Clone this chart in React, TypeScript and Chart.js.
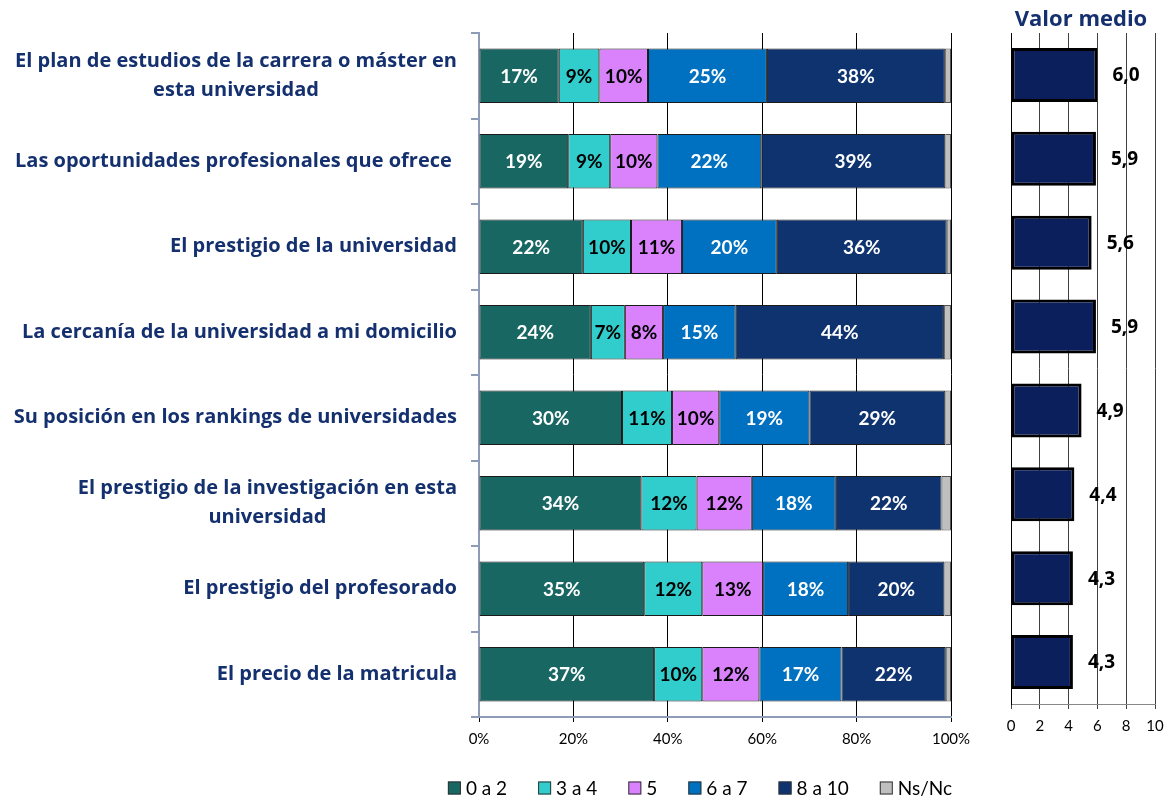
import React, { useEffect, useRef } from 'react';
import { Chart, registerables } from 'chart.js';

Chart.register(...registerables);

const categories: (string | string[])[] = [
  ['El plan de estudios de la carrera o máster en', 'esta universidad'],
  'Las oportunidades profesionales que ofrece ',
  'El prestigio de la universidad',
  'La cercanía de la universidad a mi domicilio',
  'Su posición en los rankings de universidades',
  ['El prestigio de la investigación en esta', 'universidad'],
  'El prestigio del profesorado',
  'El precio de la matricula',
];

const seriesNames = ['0 a 2', '3 a 4', '5', '6 a 7', '8 a 10', 'Ns/Nc'];
const s0a2 = [16.9, 18.9, 22.0, 23.7, 30.3, 34.4, 35.0, 37.1];
const s3a4 = [8.6, 8.9, 10.2, 7.2, 10.6, 11.7, 12.3, 10.2];
const s5 = [10.3, 10.0, 10.8, 8.1, 10.0, 11.7, 12.9, 12.1];
const s6a7 = [25.2, 22.0, 20.1, 15.4, 19.1, 17.8, 18.0, 17.4];
const s8a10 = [37.7, 39.0, 36.0, 44.1, 28.8, 22.4, 20.4, 22.1];
const sNsNc = [1.3, 1.2, 0.9, 1.5, 1.2, 2.0, 1.4, 1.1];
const meanValues = [6.0, 5.9, 5.6, 5.9, 4.9, 4.4, 4.3, 4.3];
const meanTitle = 'Valor medio';

const seriesData = [s0a2, s3a4, s5, s6a7, s8a10, sNsNc];
const seriesColors = ['#196763', '#31CDCC', '#D982FC', '#0070C0', '#0E336F', '#BFBFBF'];
const labelColors = ['#FFFFFF', '#000000', '#000000', '#FFFFFF', '#FFFFFF', null];

const FONT = 'Lato, "Open Sans", sans-serif';
const FONT_WIDE = '"Open Sans", Lato, sans-serif';
const NAVY = '#14306E';
const AXIS_GREY = '#8E9CB8';

const segLabels = {
  id: 'segLabels',
  afterDatasetsDraw(chart: any) {
    const { ctx } = chart;
    ctx.save();
    ctx.font = `bold 19px ${FONT}`;
    ctx.textAlign = 'center';
    ctx.textBaseline = 'middle';
    chart.data.datasets.forEach((ds: any, d: number) => {
      const col = labelColors[d];
      if (!col) return;
      const meta = chart.getDatasetMeta(d);
      meta.data.forEach((el: any, i: number) => {
        const v = ds.data[i];
        const p = el.getCenterPoint();
        ctx.fillStyle = col;
        ctx.fillText(Math.round(v) + '%', p.x, p.y + 1);
      });
    });
    ctx.restore();
  },
};

const catLabels = {
  id: 'catLabels',
  afterDraw(chart: any) {
    const { ctx } = chart;
    const y = chart.scales.y;
    ctx.save();
    ctx.font = `bold 20px ${FONT_WIDE}`;
    ctx.fillStyle = NAVY;
    ctx.textAlign = 'center';
    ctx.textBaseline = 'middle';
    categories.forEach((c, i) => {
      const lines = Array.isArray(c) ? c : [c];
      const w = Math.max(...lines.map((l) => ctx.measureText(l).width));
      const cx = 457 - w / 2;
      const yc = y.getPixelForValue(i);
      const lh = 29;
      lines.forEach((l, j) => ctx.fillText(l, cx, yc + (j - (lines.length - 1) / 2) * lh));
    });
    ctx.restore();
  },
};

const legendDraw = {
  id: 'legendDraw',
  afterDraw(chart: any) {
    const { ctx } = chart;
    ctx.save();
    ctx.font = `19px ${FONT}`;
    ctx.textBaseline = 'middle';
    ctx.textAlign = 'left';
    const box = 13;
    const gapBT = 5;
    const gap = 31;
    const widths = seriesNames.map((n) => ctx.measureText(n).width);
    const total = widths.reduce((a, w) => a + box + gapBT + w, 0) + gap * (seriesNames.length - 1);
    let x = 700 - total / 2;
    const yc = 788;
    seriesNames.forEach((n, i) => {
      ctx.fillStyle = seriesColors[i];
      ctx.fillRect(x, yc - box / 2, box, box);
      ctx.strokeStyle = '#333333';
      ctx.lineWidth = 1;
      ctx.strokeRect(x + 0.5, yc - box / 2 + 0.5, box - 1, box - 1);
      ctx.fillStyle = '#000000';
      ctx.fillText(n, x + box + gapBT, yc + 1);
      x += box + gapBT + widths[i] + gap;
    });
    ctx.restore();
  },
};

const meanLabels = {
  id: 'meanLabels',
  afterDatasetsDraw(chart: any) {
    const { ctx } = chart;
    ctx.save();
    ctx.font = `bold 19px ${FONT_WIDE}`;
    ctx.fillStyle = '#000000';
    ctx.textAlign = 'left';
    ctx.textBaseline = 'middle';
    const meta = chart.getDatasetMeta(0);
    meta.data.forEach((el: any, i: number) => {
      const v = meanValues[i];
      ctx.fillText(v.toFixed(1).replace('.', ','), el.x + 15, el.y + 1);
    });
    ctx.restore();
  },
};

const meanTitleDraw = {
  id: 'meanTitleDraw',
  afterDraw(chart: any) {
    const { ctx, chartArea } = chart;
    ctx.save();
    ctx.font = `bold 22px ${FONT_WIDE}`;
    ctx.fillStyle = NAVY;
    ctx.textAlign = 'center';
    ctx.textBaseline = 'middle';
    ctx.fillText(meanTitle, (chartArea.left + chartArea.right) / 2 - 2, 20);
    ctx.restore();
  },
};

export default function App() {
  const leftRef = useRef<HTMLCanvasElement>(null);
  const rightRef = useRef<HTMLCanvasElement>(null);

  useEffect(() => {
    const left = new Chart(leftRef.current as HTMLCanvasElement, {
      type: 'bar',
      data: {
        labels: categories.map((c) => (Array.isArray(c) ? c.join(' ') : c)),
        datasets: seriesNames.map((n, i) => ({
          label: n,
          data: seriesData[i],
          backgroundColor: seriesColors[i],
          borderColor: i === 5 ? '#555555' : '#1A1A1A',
          borderWidth: 1,
          borderSkipped: false,
          categoryPercentage: 1,
          barPercentage: 0.635,
        })),
      },
      options: {
        indexAxis: 'y',
        responsive: false,
        animation: false,
        devicePixelRatio: 1,
        layout: { padding: { top: 33, right: 24, bottom: 0, left: 0 } },
        plugins: { legend: { display: false }, tooltip: { enabled: false }, title: { display: false } },
        scales: {
          x: {
            stacked: true,
            min: 0,
            max: 100,
            ticks: {
              stepSize: 20,
              callback: (v: any) => v + '%',
              font: { family: FONT, size: 15 },
              color: '#000000',
              padding: 8,
            },
            grid: {
              color: (c: any) => (c.tick && c.tick.value === 0 ? 'rgba(0,0,0,0)' : '#000000'),
              tickColor: '#000000',
              tickLength: 5,
            },
            border: { color: AXIS_GREY, width: 2 },
            afterFit: (s: any) => {
              s.height = 85;
              s.paddingLeft = 0;
              s.paddingRight = 0;
            },
          },
          y: {
            stacked: true,
            ticks: { display: false },
            grid: { drawOnChartArea: false, offset: true, tickLength: 8, color: AXIS_GREY, lineWidth: 2 },
            border: { color: AXIS_GREY, width: 2 },
            afterFit: (s: any) => {
              s.width = 479;
              s.paddingTop = 0;
              s.paddingBottom = 0;
            },
          },
        },
      },
      plugins: [segLabels, catLabels, legendDraw],
    } as any);

    const right = new Chart(rightRef.current as HTMLCanvasElement, {
      type: 'bar',
      data: {
        labels: categories.map((c) => (Array.isArray(c) ? c.join(' ') : c)),
        datasets: [
          {
            label: meanTitle,
            data: meanValues,
            backgroundColor: '#0B1F5C',
            borderColor: '#000000',
            borderWidth: 3,
            borderSkipped: false,
            categoryPercentage: 1,
            barPercentage: 0.645,
          },
        ],
      },
      options: {
        indexAxis: 'y',
        responsive: false,
        animation: false,
        devicePixelRatio: 1,
        layout: { padding: { top: 33, right: 12, bottom: 0, left: 0 } },
        plugins: { legend: { display: false }, tooltip: { enabled: false }, title: { display: false } },
        scales: {
          x: {
            min: 0,
            max: 10,
            ticks: { stepSize: 2, font: { family: FONT, size: 15 }, color: '#000000', padding: 8 },
            grid: { color: '#404040', tickColor: '#404040', tickLength: 5 },
            border: { color: '#888888', width: 1 },
            afterFit: (s: any) => {
              s.height = 98;
              s.paddingLeft = 0;
              s.paddingRight = 0;
            },
          },
          y: {
            ticks: { display: false },
            grid: { display: false },
            border: { color: '#000000', width: 1 },
            afterFit: (s: any) => {
              s.width = 36;
              s.paddingTop = 0;
              s.paddingBottom = 0;
            },
          },
        },
      },
      plugins: [meanLabels, meanTitleDraw],
    } as any);

    return () => {
      left.destroy();
      right.destroy();
    };
  }, []);

  return (
    <div style={{ position: 'fixed', left: 0, top: 0, width: 1167, height: 802, background: '#FFFFFF' }}>
      <canvas
        ref={leftRef}
        width={975}
        height={802}
        style={{ position: 'absolute', left: 0, top: 0, width: 975, height: 802, display: 'block' }}
      />
      <canvas
        ref={rightRef}
        width={192}
        height={802}
        style={{ position: 'absolute', left: 975, top: 0, width: 192, height: 802, display: 'block' }}
      />
    </div>
  );
}
